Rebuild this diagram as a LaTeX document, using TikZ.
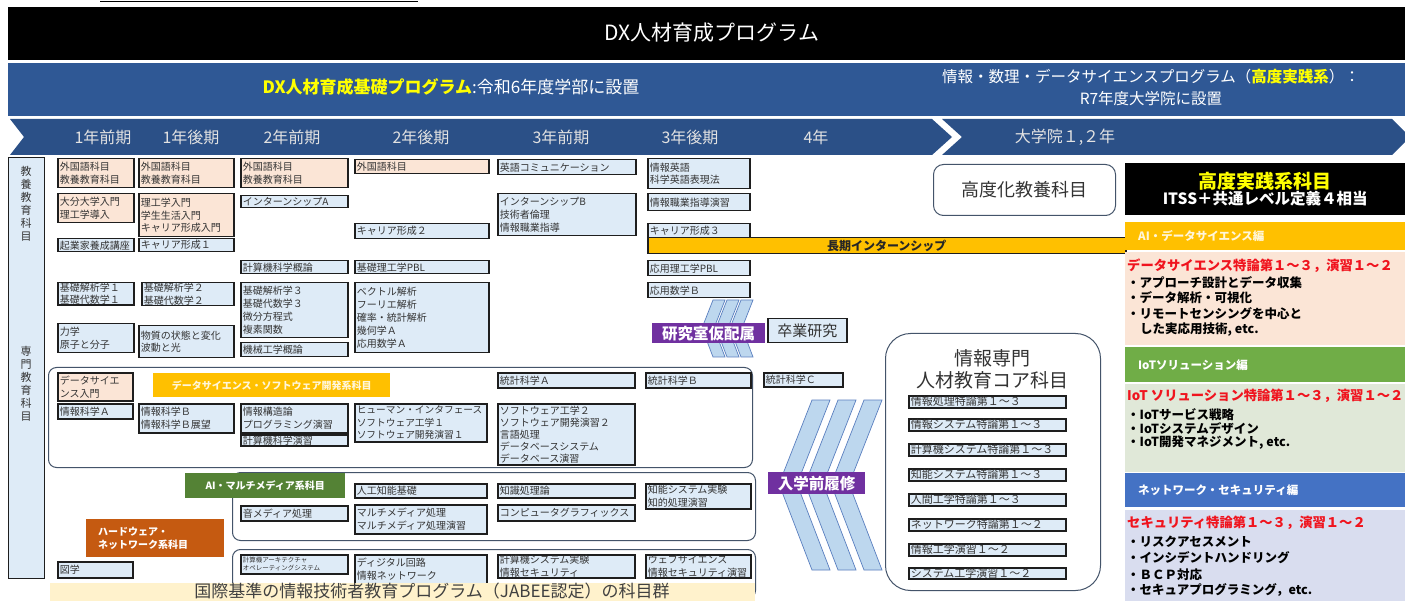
\documentclass[tikz,border=0pt]{standalone}
\usepackage{fontspec}
\setmainfont{Noto Sans CJK JP}
\definecolor{pinkf}{HTML}{FBE5D6}
\definecolor{bluef}{HTML}{DEEBF7}
\definecolor{bdr}{HTML}{1E1E1E}
\definecolor{txt}{HTML}{333333}
\definecolor{hdrblue}{HTML}{2F5895}
\definecolor{chevblue}{HTML}{2B5087}
\definecolor{gold}{HTML}{FFC000}
\definecolor{grp}{HTML}{44546A}
\definecolor{purp}{HTML}{7030A0}
\definecolor{strf}{HTML}{BDD7EE}
\definecolor{strb}{HTML}{5A7FBF}
\definecolor{dsgreen}{HTML}{548235}
\definecolor{hwor}{HTML}{C55A11}
\definecolor{jab}{HTML}{FFF2CC}
\definecolor{iotg}{HTML}{70AD47}
\definecolor{iotbg}{HTML}{E0E8D8}
\definecolor{netb}{HTML}{4472C4}
\definecolor{netbg}{HTML}{D9DDEF}
\definecolor{redt}{HTML}{F0141E}
\definecolor{yel}{HTML}{FFFF00}
\definecolor{chevtxt}{HTML}{E2E2E2}
\definecolor{tagtxt}{HTML}{FFF6DA}
\newcommand\fs[2]{\fontsize{#1}{#2}\selectfont}
\newcommand\Bx[7][]{%
  \pgfmathsetmacro\cbW{#5-#3}%
  \pgfmathsetmacro\cbH{#6-#4}%
  \pgfmathsetmacro\cbT{#5-#3-4}%
  \node[anchor=north west,minimum width=\cbW pt,minimum height=\cbH pt,#1] (#2) at (#3,#4) {#7};}
\tikzset{
  boxS/.style={draw=bdr,line width=1.5pt,inner xsep=2pt,inner ysep=0pt,align=left,text width=\cbT pt,font=\fs{10}{12.8},text=txt},
  pinkS/.style={boxS,fill=pinkf},
  blueS/.style={boxS,fill=bluef},
  grpS/.style={draw=grp,line width=1pt,rounded corners=8pt,fill=white},
  tagS/.style={inner sep=0pt,font=\fs{10}{13}\bfseries,text=tagtxt},
  purpS/.style={fill=purp,text=white,font=\fs{15.5}{18}\bfseries,inner sep=0pt},
  stripeS/.style={fill=strf,draw=strb,line width=0.7pt},
  coreS/.style={boxS,fill=bluef,font=\fs{11}{13}},
  rpS/.style={anchor=west,inner sep=0pt,font=\fs{12.5}{15}\bfseries,text=black},
  rpHeadS/.style={rpS,font=\fs{13.3}{15}\bfseries,text=redt},
  chevS/.style={text=chevtxt,font=\fs{16}{18}},
  barS/.style={inner xsep=13pt,inner ysep=0pt,align=left,text width=254pt,font=\fs{11.5}{14}\bfseries,text=white}
}
\begin{document}
\begin{tikzpicture}[x=1pt,y=-1pt]
\useasboundingbox (0,0) rectangle (1405,601);
\clip (0,0) rectangle (1405,601);
\fill[white] (0,0) rectangle (1405,601);
% header
\draw[line width=1pt,black] (100,2) -- (418,2);
\Bx[fill=black,inner sep=0pt]{titlebar}{8}{7}{1405}{60}{}
\node[text=white,font=\fs{21}{25}] (title) at (712,33) {DX人材育成プログラム};
\Bx[fill=hdrblue,inner sep=0pt]{progbar}{8}{63}{1405}{116}{}
\node[text=white,font=\fs{17}{20}] (prog1) at (451,87) {{\color{yel}\bfseries DX人材育成基礎プログラム}:令和6年度学部に設置};
\node[text=white,font=\fs{15.5}{22},align=center] (prog2) at (1151,87) {情報・数理・データサイエンスプログラム（{\color{yel}\bfseries 高度実践系}）：\\R7年度大学院に設置};
\fill[chevblue] (10,119) -- (932,119) -- (952,137) -- (932,155) -- (10,155) -- (24,137) -- cycle;
\fill[chevblue] (942,119) -- (1392,119) -- (1410,137) -- (1392,155) -- (942,155) -- (962,137) -- cycle;
\node[chevS] (s1) at (103,137) {1年前期};
\node[chevS] (s2) at (191,137) {1年後期};
\node[chevS] (s3) at (292,137) {2年前期};
\node[chevS] (s4) at (421,137) {2年後期};
\node[chevS] (s5) at (561,137) {3年前期};
\node[chevS] (s6) at (690,137) {3年後期};
\node[chevS] (s7) at (816,137) {4年};
\node[chevS] (s8) at (1065,137) {大学院１,２年};
% left column
\Bx[draw=bdr,line width=1.2pt,fill=bluef]{leftcol}{8}{157}{44}{578}{}
\node[align=center,font=\fs{11}{13},text=txt] (kyoyo) at (26,204) {教\\養\\教\\育\\科\\目};
\node[align=center,font=\fs{11}{13},text=txt] (senmon) at (26,384) {専\\門\\教\\育\\科\\目};
% groups
\Bx[grpS]{g1}{48}{367}{752}{467}{}
\Bx[grpS]{g2}{232}{472}{755}{540}{}
\Bx[grpS]{g3}{232}{549}{755}{598}{}
% column 1
\Bx[pinkS]{b11}{57}{158}{133}{187}{外国語科目\\教養教育科目}
\Bx[pinkS]{b12}{57}{193}{133}{222}{大分大学入門\\理工学導入}
\Bx[blueS]{b13}{57}{238}{133}{251}{起業家養成講座}
\Bx[blueS]{b14}{57}{282}{133}{304}{基礎解析学１\\基礎代数学１}
\Bx[blueS]{b15}{57}{323}{133}{352}{力学\\原子と分子}
% column 2
\Bx[pinkS]{b21}{138}{158}{233}{187}{外国語科目\\教養教育科目}
\Bx[pinkS]{b22}{138}{193}{233}{236}{理工学入門\\学生生活入門\\キャリア形成入門}
\Bx[blueS]{b23}{138}{238}{233}{251}{キャリア形成１}
\Bx[blueS]{b24}{141}{282}{233}{305}{基礎解析学２\\基礎代数学２}
\Bx[blueS]{b25}{138}{325}{233}{357}{物質の状態と変化\\波動と光}
% column 3
\Bx[pinkS]{b31}{240}{158}{347}{187}{外国語科目\\教養教育科目}
\Bx[blueS]{b32}{240}{195}{347}{207}{インターンシップA}
\Bx[blueS]{b33}{240}{260}{347}{273}{計算機科学概論}
\Bx[blueS]{b34}{240}{282}{347}{337}{基礎解析学３\\基礎代数学３\\微分方程式\\複素関数}
\Bx[blueS]{b35}{240}{342}{347}{356}{機械工学概論}
% column 4
\Bx[pinkS]{b41}{354}{159}{488}{173}{外国語科目}
\Bx[blueS]{b42}{354}{223}{488}{238}{キャリア形成２}
\Bx[blueS]{b43}{354}{260}{488}{273}{基礎理工学PBL}
\Bx[blueS]{b44}{354}{282}{488}{352}{ベクトル解析\\フーリエ解析\\確率・統計解析\\幾何学Ａ\\応用数学Ａ}
% column 5
\Bx[blueS]{b51}{497}{159}{635}{174}{英語コミュニケーション}
\Bx[blueS]{b52}{497}{193}{635}{235}{インターンシップB\\技術者倫理\\情報職業指導}
% column 6
\Bx[blueS]{b61}{647}{158}{749}{188}{情報英語\\科学英語表現法}
\Bx[blueS]{b62}{647}{193}{749}{210}{情報職業指導演習}
\Bx[blueS]{b63}{647}{223}{749}{237}{キャリア形成３}
\Bx[draw=bdr,line width=1.5pt,fill=gold,inner sep=0pt,font=\fs{12}{14}\bfseries,text=black!85]{longint}{647}{237}{1125}{253}{長期インターンシップ}
\Bx[blueS]{b64}{647}{260}{749}{275}{応用理工学PBL}
\Bx[blueS]{b65}{647}{282}{749}{297}{応用数学Ｂ}
% group 1 content
\Bx[pinkS]{d1}{57}{372}{132}{400}{データサイエ\\ンス入門}
\Bx[blueS]{d2}{57}{403}{132}{418}{情報科学Ａ}
\Bx[blueS]{d3}{138}{403}{233}{432}{情報科学Ｂ\\情報科学Ｂ展望}
\Bx[blueS]{d4}{240}{403}{347}{432}{情報構造論\\プログラミング演習}
\Bx[blueS]{d5}{240}{434}{347}{445}{計算機科学演習}
\Bx[blueS,font=\fs{9.7}{12.5}]{d6}{354}{403}{486}{441}{ヒューマン・インタフェース\\ソフトウェア工学１\\ソフトウェア開発演習１}
\Bx[blueS]{d7}{497}{372}{634}{387}{統計科学Ａ}
\Bx[blueS,font=\fs{10}{12}]{d8}{497}{403}{634}{464}{ソフトウェア工学２\\ソフトウェア開発演習２\\言語処理\\データベースシステム\\データベース演習}
\Bx[blueS]{d9}{645}{372}{750}{387}{統計科学Ｂ}
\Bx[tagS,fill=gold]{dstag}{153}{373}{390}{397}{データサイエンス・ソフトウェア開発系科目}
% group 2 content
\Bx[blueS]{a1}{354}{483}{486}{497}{人工知能基礎}
\Bx[blueS]{a2}{240}{505}{347}{520}{音メディア処理}
\Bx[blueS]{a3}{354}{504}{486}{533}{マルチメディア処理\\マルチメディア処理演習}
\Bx[blueS]{a4}{497}{483}{634}{497}{知識処理論}
\Bx[blueS]{a5}{497}{504}{634}{520}{コンピュータグラフィックス}
\Bx[blueS]{a6}{645}{483}{750}{508}{知能システム実験\\知的処理演習}
\Bx[tagS,fill=dsgreen,text=white]{aitag}{185}{473}{345}{498}{AI・マルチメディア系科目}
% group 3 content
\Bx[blueS,font=\fs{6.5}{8}]{h1}{240}{554}{347}{573}{計算機アーキテクチャ\\オペレーティングシステム}
\Bx[blueS]{h2}{354}{554}{486}{583}{ディジタル回路\\情報ネットワーク}
\Bx[blueS]{h3}{497}{554}{634}{577}{計算機システム実験\\情報セキュリティ}
\Bx[blueS]{h4}{645}{554}{750}{577}{ウェブサイエンス\\情報セキュリティ演習}
\Bx[blueS]{h0}{57}{561}{132}{577}{図学}
\Bx[tagS,fill=hwor,text=white,align=left,text width=114pt,inner xsep=12pt]{hwtag}{86}{519}{224}{557}{ハードウェア・\\ネットワーク系科目}
\Bx[fill=jab,inner sep=0pt]{jabee}{50}{583}{755}{601}{}
\node[text=black!75,font=\fs{17}{20}] (jabeet) at (432,591) {国際基準の情報技術者教育プログラム（JABEE認定）の科目群};
% research chevrons
\foreach \t in {713,727,741} {
  \filldraw[stripeS] (\t,300) -- ++(12,0) -- ({\t+1},328) -- ({\t+12},357) -- (\t,357) -- ({\t-11},328) -- cycle;
}
\Bx[purpS]{kenkyu}{652}{323}{765}{343}{研究室仮配属}
\Bx[draw=bdr,line width=1.5pt,fill=bluef,inner sep=0pt,font=\fs{15}{18},text=txt]{sotsu}{767}{318}{846}{342}{卒業研究}
\Bx[blueS]{tokeiC}{763}{372}{842}{386}{統計科学Ｃ}
\foreach \t in {812,838,864} {
  \filldraw[stripeS] (\t,400) -- ++(18,0) -- ({\t-15},484) -- ({\t+18},570) -- (\t,570) -- ({\t-33},484) -- cycle;
}
\Bx[purpS]{nyugaku}{768}{472}{865}{494}{入学前履修}
% advanced liberal arts
\Bx[grpS,rounded corners=10pt,font=\fs{18}{22},text=txt]{kodoka}{933}{164}{1115}{215}{高度化教養科目}
% core group
\Bx[grpS,rounded corners=25pt]{coreg}{885}{333}{1100}{590}{}
\node[align=center,font=\fs{19}{22},text=txt] (coret) at (992,369) {情報専門\\人材教育コア科目};
\Bx[coreS]{c1}{908}{395}{1065}{407}{情報処理特論第１～３}
\Bx[coreS]{c2}{908}{418}{1065}{430}{情報システム特論第１～３}
\Bx[coreS]{c3}{908}{443}{1065}{455}{計算機システム特論第１～３}
\Bx[coreS]{c4}{908}{468}{1065}{480}{知能システム特論第１～３}
\Bx[coreS]{c5}{908}{493}{1065}{505}{人間工学特論第１～３}
\Bx[coreS]{c6}{908}{518}{1065}{530}{ネットワーク特論第１～２}
\Bx[coreS]{c7}{908}{543}{1065}{555}{情報工学演習１～２}
\Bx[coreS]{c8}{908}{567}{1065}{578}{システム工学演習１～２}
% right panel
\Bx[fill=black,inner sep=0pt,align=center,text=white]{rpblack}{1125}{163}{1405}{215}{{\color{yel}\fs{19}{22}\bfseries 高度実践系科目}\\{\fs{15.5}{22}\bfseries ITSS＋共通レベル定義４相当}}
\Bx[barS,fill=gold,text=tagtxt]{aibar}{1125}{222}{1405}{250}{AI・データサイエンス編}
\Bx[fill=pinkf,inner sep=0pt]{dsarea}{1125}{252}{1405}{345}{}
\node[rpHeadS] (ds0) at (1127,266) {データサイエンス特論第１～３，演習１～２};
\node[rpS] (ds1) at (1127,283) {・アプローチ設計とデータ収集};
\node[rpS] (ds2) at (1127,298) {・データ解析・可視化};
\node[rpS] (ds3) at (1127,314) {・リモートセンシングを中心と};
\node[rpS] (ds4) at (1140,330) {した実応用技術, etc.};
\Bx[barS,fill=iotg]{iotbar}{1125}{347}{1405}{382}{IoTソリューション編}
\Bx[fill=iotbg,inner sep=0pt]{iotarea}{1125}{384}{1405}{472}{}
\node[rpHeadS] (io0) at (1127,396) {IoT ソリューション特論第１～３，演習１～２};
\node[rpS] (io1) at (1127,415) {・IoTサービス戦略};
\node[rpS] (io2) at (1127,429) {・IoTシステムデザイン};
\node[rpS] (io3) at (1127,443) {・IoT開発マネジメント, etc.};
\Bx[barS,fill=netb]{netbar}{1125}{473}{1405}{507}{ネットワーク・セキュリティ編}
\Bx[fill=netbg,inner sep=0pt]{netarea}{1125}{510}{1405}{601}{}
\node[rpHeadS] (ne0) at (1127,523) {セキュリティ特論第１～３，演習１～２};
\node[rpS] (ne1) at (1127,542) {・リスクアセスメント};
\node[rpS] (ne2) at (1127,558) {・インシデントハンドリング};
\node[rpS] (ne3) at (1127,575) {・ＢＣＰ対応};
\node[rpS] (ne4) at (1127,590) {・セキュアプログラミング，etc.};
\end{tikzpicture}
\end{document}
